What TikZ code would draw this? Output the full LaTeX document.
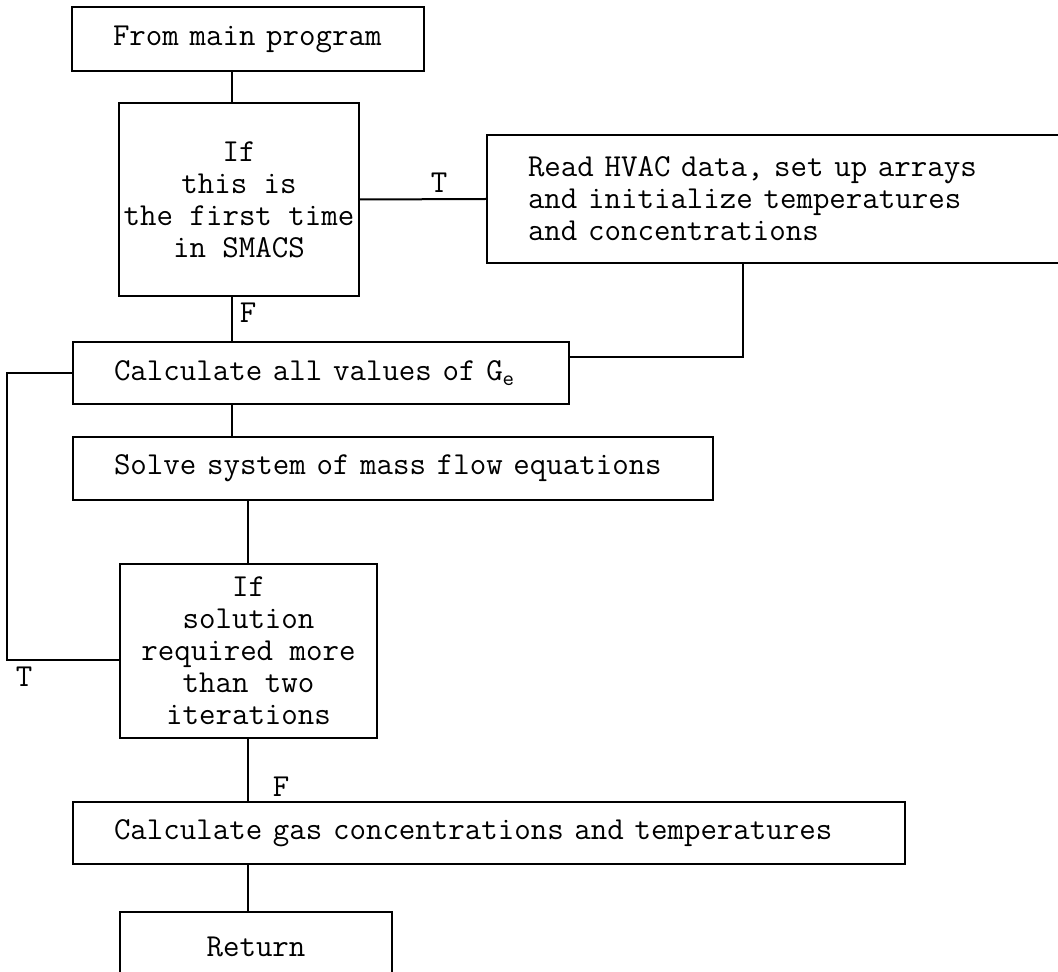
\documentclass[tikz,border=0pt]{standalone}
\usepackage{tikz}

\newcommand{\flowfont}{\fontsize{16}{16}\selectfont\ttfamily}
\tikzset{
  procbox/.style={draw, line width=1pt, anchor=west, align=left,
    inner xsep=20.5pt, inner ysep=0pt, font=\flowfont},
  testbox/.style={draw, line width=1pt, align=center, inner sep=0pt, font=\flowfont},
  lbl/.style={font=\flowfont, inner sep=0pt},
  link/.style={line width=1pt}
}

\begin{document}
\begin{tikzpicture}[x=0.5pt,y=-0.5pt]
    \useasboundingbox (0,0) rectangle (1058,972);

    % boxes
    \node[procbox, text width=135pt, minimum height=32pt] (start) at (71,39) {\mbox{From main program}};
    \node[testbox, minimum width=120pt, minimum height=96.5pt] (first) at (239,199.5)
        {If\\this is\\the first time\\in SMACS};
    \node[procbox, text width=271pt, minimum height=64pt] (read) at (486,199)
        {Read HVAC data, set up arrays\\and initialize temperatures\\and concentrations};
    \node[procbox, text width=207pt, minimum height=31pt] (calcall) at (72,373)
        {\mbox{Calculate all values of G$_{\mathtt{e}}$}};
    \node[procbox, text width=279pt, minimum height=31.5pt] (solve) at (72,468.5)
        {\mbox{Solve system of mass flow equations}};
    \node[testbox, minimum width=128.5pt, minimum height=87pt] (second) at (248.5,651)
        {If\\solution\\required more\\than two\\iterations};
    \node[procbox, text width=375pt, minimum height=31pt] (calcgas) at (72,833)
        {\mbox{Calculate gas concentrations and temperatures}};
    \node[testbox, minimum width=136pt, minimum height=35pt] (ret) at (256,947) {Return};

    % where the connectors run
    \coordinate (spine) at (232,0);
    \coordinate (spineb) at (248,0);
    \coordinate (rjoin) at (743,0);
    \coordinate (loopx) at (7,373);

    % connectors
    \draw[link] (start.south -| spine) -- (first.north -| spine);
    \draw[link] (first.east) -- (read.west);
    \draw[link] (read.south -| rjoin) |- ([yshift=8pt]calcall.east);
    \draw[link] (first.south -| spine) -- (calcall.north -| spine);
    \draw[link] (calcall.south -| spine) -- (solve.north -| spine);
    \draw[link] (solve.south -| spineb) -- (second.north -| spineb);
    \draw[link] ([yshift=-4.5pt]second.west) -| (loopx) -- (calcall.west);
    \draw[link] (second.south -| spineb) -- (calcgas.north -| spineb);
    \draw[link] (calcgas.south -| spineb) -- (ret.north -| spineb);

    % branch labels
    \node[lbl] (tfirst) at (439,183) {T};
    \node[lbl] (ffirst) at (248,313) {F};
    \node[lbl] (tsecond) at (24,677) {T};
    \node[lbl] (fsecond) at (281,787) {F};
\end{tikzpicture}
\end{document}
